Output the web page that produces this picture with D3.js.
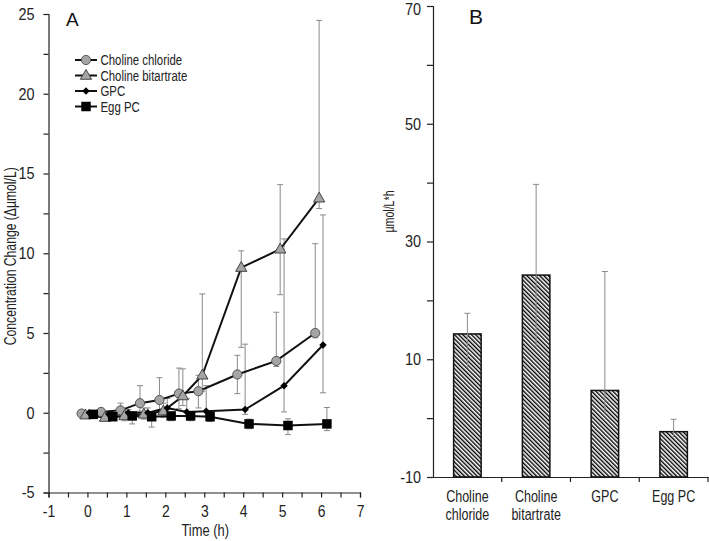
<!DOCTYPE html>
<html>
<head>
<meta charset="utf-8">
<script src="https://cdn.jsdelivr.net/npm/d3@7/dist/d3.min.js"></script>
<style>
  html, body { margin: 0; padding: 0; background: #fff; }
  svg { display: block; font-family: "Liberation Sans", Arial, sans-serif; }
</style>
</head>
<body>
<svg id="chart" width="709" height="541"></svg>
<script>
// ---------- Panel A data ----------
const times = [0, 0.5, 1, 1.5, 2, 2.5, 3, 4, 5, 6];
const seriesNames = ["Choline chloride", "Choline bitartrate", "GPC", "Egg PC"];

const cholineChloride     = [-0.05, 0.05, 0.15, 0.6, 0.8, 1.2, 1.35, 2.4, 3.25, 5.0];
const cholineChlorideUp   = [0.1, 0.1, 0.45, 1.1, 1.4, 1.6, 1.0, 1.2, 3.05, 5.6];
const cholineChlorideDown = [0.1, 0.1, 0.2, 0.5, 0.6, 0.95, 1.05, 1.2, 0.35, 0.3];

const cholineBitartrate     = [-0.15, -0.3, -0.2, -0.1, 0.1, 1.05, 2.35, 9.1, 10.25, 13.45];
const cholineBitartrateUp   = [0.1, 0.2, 0.3, 0.4, 0.5, 1.7, 5.1, 1.05, 4.05, 11.15];
const cholineBitartrateDown = [0.1, 0.2, 0.3, 0.3, 0.4, 0.6, 1.0, 5.0, 2.85, 0.65];

const gpc     = [0.0, -0.1, 0.0, 0.0, 0.3, 0.05, 0.1, 0.2, 1.7, 4.25];
const gpcUp   = [0.1, 0.15, 0.2, 0.3, 0.6, 0.85, 1.6, 4.1, 9.2, 8.15];
const gpcDown = [0.1, 0.15, 0.2, 0.3, 0.3, 0.3, 0.3, 0.3, 1.65, 3.0];

const eggPC     = [-0.1, -0.25, -0.2, -0.25, -0.2, -0.2, -0.25, -0.7, -0.8, -0.7];
const eggPCUp   = [0.1, 0.15, 0.2, 0.2, 0.2, 0.2, 0.2, 0.3, 0.42, 1.03];
const eggPCDown = [0.1, 0.2, 0.5, 0.65, 0.3, 0.3, 0.3, 0.3, 0.57, 0.42];

const xTicksA = [-1, 0, 1, 2, 3, 4, 5, 6, 7];
const yTicksA = [-5, 0, 5, 10, 15, 20, 25];

// ---------- Panel B data ----------
const categories = ["Choline chloride", "Choline bitartrate", "GPC", "Egg PC"];
const categoryLines = [["Choline", "chloride"], ["Choline", "bitartrate"], ["GPC"], ["Egg PC"]];
const aucValues = [14.3, 24.3, 4.7, -2.3];
const aucUp     = [3.5, 15.4, 20.2, 2.1];
const aucDown   = [5.8, 12.2, 3.8, 0.9];
const yTicksB = [-10, 10, 30, 50, 70];

// ---------- drawing ----------
const svg = d3.select("#chart");
const ERR = "#8a8a8a";
const fmt = d => String(d); // hyphen-minus as in the original

// Panel A
const xA = d3.scaleLinear().domain([-1, 7]).range([48.5, 360]);
const yA = d3.scaleLinear().domain([-5, 25]).range([492.5, 14]);

const gA = svg.append("g");
const xAxisA = d3.axisBottom(xA).tickValues(d3.range(-1, 7.01, 0.5)).tickSize(5)
  .tickFormat(d => xTicksA.includes(d) ? fmt(d) : "");
gA.append("g").attr("transform", `translate(0,${yA(-5)})`).call(xAxisA)
  .call(g => g.selectAll("text").attr("dy", "0.98em").attr("data-c", 0.82).style("font-size", "17px").attr("fill", "#222"))
  .call(g => g.selectAll("line,path").attr("stroke", "#222").attr("stroke-width", 1.2));
const yAxisA = d3.axisLeft(yA).tickValues(d3.range(-5, 25.01, 2.5)).tickSize(5)
  .tickFormat(d => yTicksA.includes(d) ? fmt(d) : "");
gA.append("g").attr("transform", `translate(${xA(-1)},0)`).call(yAxisA)
  .call(g => g.selectAll("text").attr("x", -14).attr("data-c", 0.85).style("font-size", "17px").attr("fill", "#222"))
  .call(g => g.selectAll("line,path").attr("stroke", "#222").attr("stroke-width", 1.2));

gA.append("text").attr("x", (xA(-1) + xA(7)) / 2 + 1).attr("y", 536).attr("text-anchor", "middle")
  .style("font-size", "17px").attr("fill", "#222").text("Time (h)");
gA.append("text").attr("data-rot", 1).attr("transform", `translate(16,${yA(10) + 3}) rotate(-90)`).attr("text-anchor", "middle")
  .style("font-size", "16px").attr("fill", "#222").text("Concentration Change (\u0394\u00b5mol/L)");
gA.append("text").attr("data-c", 1).attr("x", 66).attr("y", 26).style("font-size", "19px")
  .attr("fill", "#111").text("A");

const series = [
  { name: seriesNames[0], v: cholineChloride, up: cholineChlorideUp, dn: cholineChlorideDown, off: -0.15, sym: "circle" },
  { name: seriesNames[1], v: cholineBitartrate, up: cholineBitartrateUp, dn: cholineBitartrateDown, off: -0.05, sym: "triangle" },
  { name: seriesNames[2], v: gpc, up: gpcUp, dn: gpcDown, off: 0.05, sym: "diamond" },
  { name: seriesNames[3], v: eggPC, up: eggPCUp, dn: eggPCDown, off: 0.15, sym: "square" }
];

function drawMarker(sel, sym, x, y) {
  if (sym === "circle") {
    sel.append("circle").attr("cx", x).attr("cy", y).attr("r", 4.6)
      .attr("fill", "#a5a5a5").attr("stroke", "#555").attr("stroke-width", 1);
  } else if (sym === "triangle") {
    sel.append("path").attr("transform", `translate(${x},${y + 0.5})`)
      .attr("d", d3.symbol(d3.symbolTriangle, 55)()).attr("fill", "#a5a5a5").attr("stroke", "#444").attr("stroke-width", 1);
  } else if (sym === "diamond") {
    sel.append("path").attr("transform", `translate(${x},${y}) rotate(45)`)
      .attr("d", d3.symbol(d3.symbolSquare, 28)()).attr("fill", "#000");
  } else {
    sel.append("path").attr("transform", `translate(${x},${y})`)
      .attr("d", d3.symbol(d3.symbolSquare, 90)()).attr("fill", "#000");
  }
}

// error bars
series.forEach(s => {
  const g = gA.append("g");
  times.forEach((t, i) => {
    const x = xA(t + s.off);
    const y1 = yA(s.v[i] + s.up[i]), y2 = yA(s.v[i] - s.dn[i]);
    g.append("line").attr("x1", x).attr("x2", x).attr("y1", y1).attr("y2", y2).attr("stroke", ERR).attr("stroke-width", 1);
    [y1, y2].forEach(yy => g.append("line").attr("x1", x - 3).attr("x2", x + 3).attr("y1", yy).attr("y2", yy)
      .attr("stroke", ERR).attr("stroke-width", 1));
  });
});
// lines
const lineGen = d3.line();
series.forEach(s => {
  gA.append("path").attr("d", lineGen(times.map((t, i) => [xA(t + s.off), yA(s.v[i])])))
    .attr("fill", "none").attr("stroke", "#111").attr("stroke-width", 2);
});
// markers
series.forEach(s => {
  const g = gA.append("g");
  times.forEach((t, i) => drawMarker(g, s.sym, xA(t + s.off), yA(s.v[i])));
});

// legend
const leg = gA.append("g");
series.forEach((s, i) => {
  const y = 60 + i * 15.5;
  leg.append("line").attr("x1", 75).attr("x2", 97).attr("y1", y).attr("y2", y).attr("stroke", "#111").attr("stroke-width", 2);
  drawMarker(leg, s.sym, 86, y);
  leg.append("text").attr("x", 100.5).attr("y", y).attr("dy", "0.36em").style("font-size", "15px").attr("fill", "#222").text(s.name);
});

// Panel B
const xB = d3.scaleBand().domain(categories).range([433, 708]).paddingInner(0.6).paddingOuter(0.3);
const yB = d3.scaleLinear().domain([-10, 70]).range([477, 6]);

const defs = svg.append("defs");
const pat = defs.append("pattern").attr("id", "hatch").attr("patternUnits", "userSpaceOnUse")
  .attr("width", 3).attr("height", 3).attr("patternTransform", "rotate(-45)");
pat.append("rect").attr("width", 3).attr("height", 3).attr("fill", "#fff");
pat.append("line").attr("x1", 0.7).attr("x2", 0.7).attr("y1", 0).attr("y2", 3).attr("stroke", "#000").attr("stroke-width", 1.4);

const gB = svg.append("g");
const xAxisB = d3.axisBottom(xB).tickSize(0).tickFormat("");
gB.append("g").attr("transform", `translate(0,${yB(-10)})`).call(xAxisB)
  .call(g => g.selectAll("line,path").attr("stroke", "#222").attr("stroke-width", 1.2));
const bw = (708 - 433) / categories.length;
gB.append("g").selectAll("line").data(d3.range(1, categories.length + 1)).join("line")
  .attr("x1", d => 433 + d * bw).attr("x2", d => 433 + d * bw)
  .attr("y1", yB(-10)).attr("y2", yB(-10) + 5).attr("stroke", "#222").attr("stroke-width", 1.2);

const yAxisB = d3.axisLeft(yB).tickValues(d3.range(-10, 70.01, 10)).tickSize(6)
  .tickFormat(d => yTicksB.includes(d) ? fmt(d) : "");
gB.append("g").attr("transform", `translate(433,0)`).call(yAxisB)
  .call(g => g.selectAll("text").attr("x", -12).attr("data-c", 0.85).style("font-size", "17px").attr("fill", "#222"))
  .call(g => g.selectAll("line,path").attr("stroke", "#222").attr("stroke-width", 1.2))
  .call(g => g.selectAll(".tick").filter(d => d === 70).select("text").attr("dy", "0.5em"));

gB.selectAll("rect.bar").data(categories).join("rect").attr("class", "bar")
  .attr("x", d => xB(d)).attr("width", xB.bandwidth())
  .attr("y", (d, i) => yB(aucValues[i])).attr("height", (d, i) => yB(-10) - yB(aucValues[i]))
  .attr("fill", "url(#hatch)").attr("stroke", "#111").attr("stroke-width", 1.5);

categories.forEach((c, i) => {
  const x = xB(c) + xB.bandwidth() / 2;
  const y1 = yB(aucValues[i] + aucUp[i]), y2 = yB(aucValues[i] - aucDown[i]);
  gB.append("line").attr("x1", x).attr("x2", x).attr("y1", y1).attr("y2", y2).attr("stroke", ERR).attr("stroke-width", 1);
  gB.append("line").attr("x1", x - 3).attr("x2", x + 3).attr("y1", y1).attr("y2", y1).attr("stroke", ERR).attr("stroke-width", 1);
  categoryLines[i].forEach((ln, k) => {
    gB.append("text").attr("x", x).attr("y", 502 + k * 18).attr("text-anchor", "middle")
      .style("font-size", "16.5px").attr("fill", "#222").text(ln);
  });
});

gB.append("text").attr("data-rot", 1).attr("transform", `translate(394,${yB(30) - 30}) rotate(-90)`).attr("text-anchor", "middle")
  .style("font-size", "14px").attr("fill", "#222").text("\u00b5mol/L*h");
gB.append("text").attr("data-c", 1).attr("x", 469).attr("y", 24).style("font-size", "21px")
  .attr("fill", "#111").text("B");

// condense text horizontally to mimic the narrow typeface of the original
svg.selectAll("text").each(function () {
  const c = this.hasAttribute("data-c") ? +this.getAttribute("data-c") : 0.76;
  if (c === 1) return;
  const sel = d3.select(this);
  if (this.hasAttribute("data-rot")) {
    sel.attr("transform", sel.attr("transform") + ` scale(${c},1)`);
  } else {
    const x = +(sel.attr("x") || 0);
    sel.attr("transform", `translate(${x * (1 - c)},0) scale(${c},1)`);
  }
});
</script>
</body>
</html>
